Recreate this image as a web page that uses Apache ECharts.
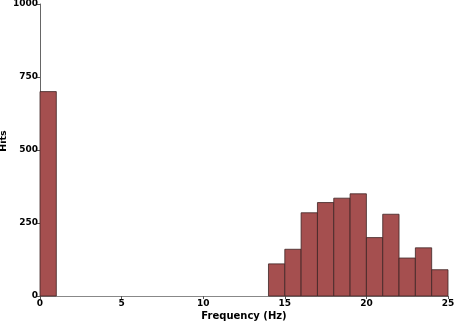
<!DOCTYPE html>
<html>
<head>
<meta charset="utf-8">
<script src="https://cdn.jsdelivr.net/npm/echarts@6/dist/echarts.min.js"></script>
<style>
  html, body { margin: 0; padding: 0; background: #fff; }
  #chart { width: 454px; height: 324px; }
</style>
</head>
<body>
<div id="chart"></div>
<script>
// histogram bins (Hz), each 1 Hz wide
var binStart = [0, 14, 15, 16, 17, 18, 19, 20, 21, 22, 23, 24];
var binEnd = [1, 15, 16, 17, 18, 19, 20, 21, 22, 23, 24, 25];
var hits = [700, 110, 160, 285, 320, 335, 350, 200, 280, 130, 165, 90];
var xTicks = [0, 5, 10, 15, 20, 25];
var yTicks = [0, 250, 500, 750, 1000];

var chartData = [];
for (var i = 0; i < hits.length; i++) {
  chartData.push([binStart[i], binEnd[i], hits[i]]);
}

function plain(v) {
  return String(v);
}

var myChart = echarts.init(document.getElementById("chart"));
myChart.setOption({
  animation: false,
  grid: { left: 40, right: 6, top: 4, bottom: 28, containLabel: false, outerBoundsMode: "none" },
  xAxis: {
    type: "value",
    min: xTicks[0],
    max: xTicks[xTicks.length - 1],
    interval: 5,
    name: "Frequency (Hz)",
    nameLocation: "middle",
    nameGap: 15,
    nameMoveOverlap: false,
    nameTextStyle: { color: "#000", fontWeight: "bold", fontSize: 10, fontFamily: "DejaVu Sans" },
    axisLine: { lineStyle: { color: "#888", width: 1 } },
    axisTick: { show: true, length: 3, lineStyle: { color: "#555" } },
    axisLabel: { margin: 3, formatter: plain, color: "#000", fontWeight: "bold", fontSize: 9, fontFamily: "DejaVu Sans" },
    splitLine: { show: false }
  },
  yAxis: {
    type: "value",
    min: yTicks[0],
    max: yTicks[yTicks.length - 1],
    interval: 250,
    name: "Hits",
    nameLocation: "middle",
    nameGap: 31,
    nameRotate: 90,
    nameMoveOverlap: false,
    nameTextStyle: { color: "#000", fontWeight: "bold", fontSize: 9.5, fontFamily: "DejaVu Sans", padding: [0, 0, 0, 18] },
    axisLine: { show: true, lineStyle: { color: "#666", width: 1 } },
    axisTick: { show: true, length: 3, lineStyle: { color: "#555" } },
    axisLabel: { margin: 2, formatter: plain, color: "#000", fontWeight: "bold", fontSize: 9, fontFamily: "DejaVu Sans" },
    splitLine: { show: false }
  },
  series: [
    {
      type: "custom",
      data: chartData,
      encode: { x: [0, 1], y: 2 },
      renderItem: function (params, api) {
        var p0 = api.coord([api.value(0), api.value(2)]);
        var p1 = api.coord([api.value(1), 0]);
        return {
          type: "rect",
          shape: { x: p0[0], y: p0[1], width: p1[0] - p0[0], height: p1[1] - p0[1] },
          style: { fill: "#a54f4f", stroke: "#3d2424", lineWidth: 0.8 }
        };
      }
    }
  ]
});
</script>
</body>
</html>
